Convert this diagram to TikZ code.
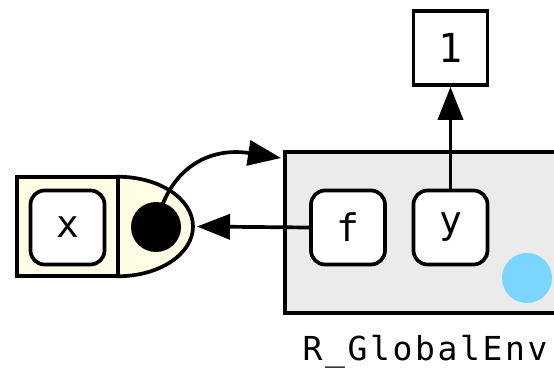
\documentclass[tikz,border=0pt]{standalone}
\usepackage{fontspec}
\newfontfamily\monofont{DejaVu Sans Mono}
\newfontfamily\envfont[LetterSpace=8]{DejaVu Sans Mono}
\usetikzlibrary{arrows.meta}
\definecolor{fnfill}{RGB}{255,253,227}
\definecolor{envfill}{RGB}{235,235,235}
\definecolor{dotblue}{RGB}{122,213,255}
\begin{document}
\begin{tikzpicture}[x=1pt,y=1pt,
  line width=3.7pt,
  keybox/.style={draw, fill=white, rounded corners=14pt, minimum width=74pt, minimum height=74pt, inner sep=0pt, font=\monofont\fontsize{38}{40}\selectfont},
  valbox/.style={draw, fill=white, minimum width=74pt, minimum height=74pt, inner sep=0pt, font=\monofont\fontsize{40}{44}\selectfont},
  dotnode/.style={circle, inner sep=0pt, minimum size=50pt},
  arr/.style={-{Triangle[length=33pt,width=25pt]}}
]
\clip (0,0) rectangle (554,375);
% environment box
\draw[fill=envfill] (285,62) rectangle (600,223);
\fill[dotblue] (527,97) circle (25);
\node[keybox] (f) at (348,147.5) {f};
\node[keybox] (y) at (450.5,147.5) {y};
\node[valbox] (one) at (450.5,327) {1};
\node[font=\envfont\fontsize{33}{38}\selectfont, anchor=base, inner sep=0pt] (envlabel) at (425,15) {R\_GlobalEnv};
\coordinate (envtip) at (281,217);
% function object
\fill[fnfill] (16.75,98.75) rectangle (118,198.25);
\draw[fill=fnfill] (118,198.25) arc[start angle=90,end angle=-90,x radius=75,y radius=49.75] -- cycle;
\draw (16.75,98.75) rectangle (118,198.25);
\node[keybox] (x) at (67.5,147.5) {x};
\node[dotnode, fill=black] (fdot) at (156,148) {};
\coordinate (fnright) at (197,148.5);
% connectors
\draw[arr] (fdot.center) .. controls (168,208) and (210,228) .. (envtip);
\draw[arr] (f.west) -- (fnright);
\draw[arr] (y.north) -- (one.south);
\end{tikzpicture}
\end{document}
